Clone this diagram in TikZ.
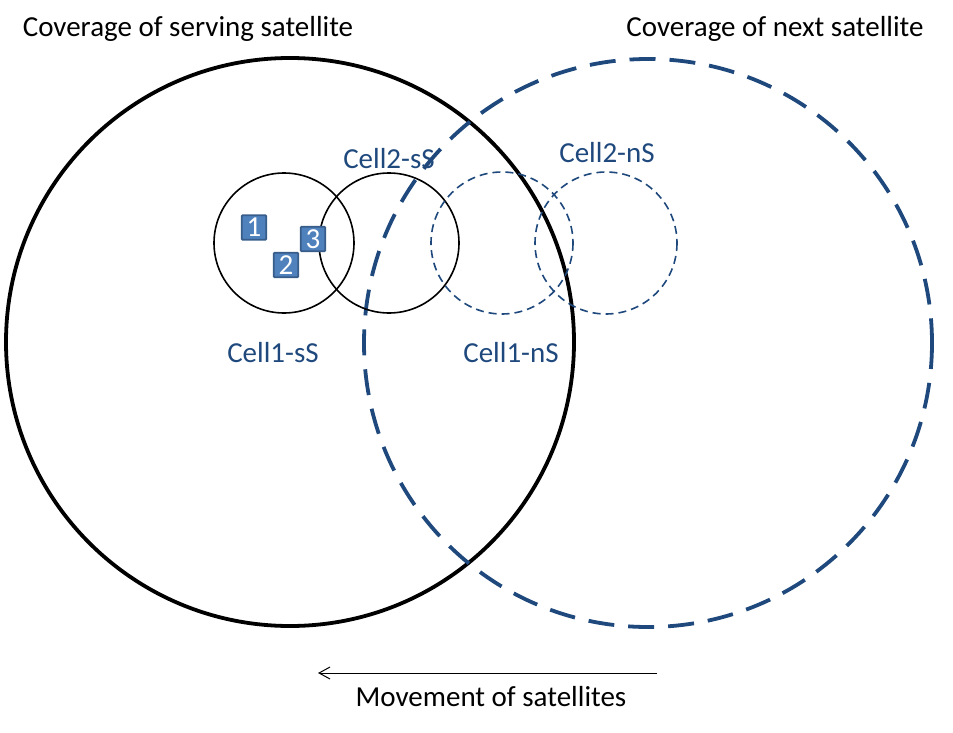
\documentclass[tikz,border=0pt]{standalone}
\usepackage{fontspec}
\setmainfont{Carlito}
\usetikzlibrary{arrows.meta}
\definecolor{navy}{HTML}{1F497D}
\definecolor{boxfill}{HTML}{4F81BD}
\definecolor{boxline}{HTML}{385D8A}
\begin{document}
\begin{tikzpicture}[x=1pt,y=-1pt,
  cov/.style={font=\fontsize{29}{32}\selectfont, text=black, inner sep=0pt},
  celllbl/.style={font=\fontsize{29}{32}\selectfont, text=navy, inner sep=0pt},
  ue/.style={draw=boxline, line width=1.8pt, fill=boxfill, minimum size=24.5pt, inner sep=0pt, rounded corners=1pt, text=white, font=\fontsize{29}{29}\selectfont},
  servcell/.style={draw=black, line width=1.6pt},
  nextcell/.style={draw=navy, line width=1.6pt, dash pattern=on 8pt off 5pt}]
\useasboundingbox (0,0) rectangle (953,733);
% coverage circles
\draw[black, line width=3.8pt] (290,342) circle[radius=284];
\draw[navy, line width=3.8pt, dash pattern=on 26pt off 14pt] (648,343) circle[radius=284];
% cells
\draw[servcell] (284,243) circle[radius=70];
\draw[servcell] (389,243) circle[radius=70];
\draw[nextcell] (502,243) circle[radius=71];
\draw[nextcell] (606,243) circle[radius=71];
% labels
\node[cov] (covs) at (188,29) {Coverage of serving satellite};
\node[cov] (covn) at (775,29) {Coverage of next satellite};
\node[celllbl] (c2s) at (389,159) {Cell2-sS};
\node[celllbl] (c2n) at (607,153) {Cell2-nS};
\node[celllbl] (c1s) at (273,353) {Cell1-sS};
\node[celllbl] (c1n) at (511,353) {Cell1-nS};
% UEs
\node[ue] (u1) at (254,227.5) {1};
\node[ue] (u2) at (286,265) {2};
\node[ue] (u3) at (313,239) {3};
% movement arrow
\coordinate (ma) at (657,673);
\coordinate (mb) at (318,673);
\draw[-{Straight Barb[length=11pt,width=12pt,line width=1pt]}, line width=1pt] (ma) -- (mb);
\node[cov] (mv) at (491,697) {Movement of satellites};
\end{tikzpicture}
\end{document}
